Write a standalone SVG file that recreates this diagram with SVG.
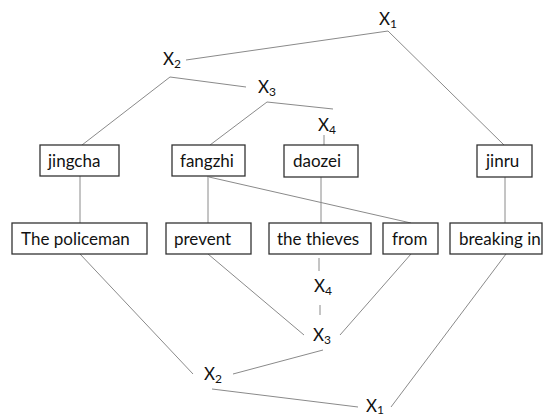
<svg xmlns="http://www.w3.org/2000/svg" width="552" height="416" viewBox="0 0 552 416">
<style>
.bg{fill:#ffffff}
.box{fill:#ffffff;stroke:#333333;stroke-width:1.3}
.t{font-family:Lato,"Liberation Sans",sans-serif;font-size:17px;fill:#111111}
.x{font-family:Lato,"Liberation Sans",sans-serif;font-size:17px;fill:#111111}
.sub{font-size:12px}
.c line{stroke:#8a8a8a;stroke-width:1}
</style>
<rect class="bg" x="0" y="0" width="552" height="416"/>
<g id="connectors" class="c">
<line x1="388" y1="31" x2="186" y2="60"/>
<line x1="388" y1="31" x2="504" y2="145"/>
<line x1="170" y1="77" x2="82" y2="145"/>
<line x1="170" y1="77" x2="246" y2="87"/>
<line x1="267" y1="102" x2="210" y2="145"/>
<line x1="267" y1="102" x2="333" y2="109"/>
<line x1="324" y1="135" x2="324" y2="145"/>
<line x1="80" y1="176" x2="80" y2="223"/>
<line x1="208" y1="176" x2="208" y2="223"/>
<line x1="209" y1="177" x2="411" y2="223"/>
<line x1="321" y1="177" x2="321" y2="223"/>
<line x1="505" y1="177" x2="505" y2="223"/>
<line x1="80" y1="254" x2="193" y2="374"/>
<line x1="208" y1="254" x2="304" y2="335"/>
<line x1="319" y1="258" x2="319" y2="271"/>
<line x1="320" y1="305" x2="320" y2="315"/>
<line x1="411" y1="254" x2="340" y2="335"/>
<line x1="323" y1="350" x2="233" y2="374"/>
<line x1="212" y1="389" x2="358" y2="407"/>
<line x1="506" y1="254" x2="391" y2="407"/>
</g>
<g id="X1top"><text class="x" x="379" y="25">X<tspan class="sub" dy="3">1</tspan></text></g>
<g id="X2top"><text class="x" x="163" y="65">X<tspan class="sub" dy="3">2</tspan></text></g>
<g id="X3top"><text class="x" x="258" y="93">X<tspan class="sub" dy="3">3</tspan></text></g>
<g id="X4top"><text class="x" x="318" y="131">X<tspan class="sub" dy="3">4</tspan></text></g>
<g id="jingcha"><rect class="box" x="40" y="145" width="79" height="31"/><text class="t" x="48" y="167">jingcha</text></g>
<g id="fangzhi"><rect class="box" x="172" y="145" width="73" height="31"/><text class="t" x="180" y="167">fangzhi</text></g>
<g id="daozei"><rect class="box" x="284" y="145" width="74" height="32"/><text class="t" x="293" y="167">daozei</text></g>
<g id="jinru"><rect class="box" x="477" y="145" width="55" height="32"/><text class="t" x="486" y="167">jinru</text></g>
<g id="policeman"><rect class="box" x="12" y="223" width="135" height="31"/><text class="t" x="21" y="245">The policeman</text></g>
<g id="prevent"><rect class="box" x="166" y="223" width="85" height="31"/><text class="t" x="174" y="245">prevent</text></g>
<g id="thieves"><rect class="box" x="269" y="223" width="102" height="31"/><text class="t" x="277" y="245">the thieves</text></g>
<g id="from"><rect class="box" x="383" y="223" width="55" height="31"/><text class="t" x="392" y="245">from</text></g>
<g id="breakingin"><rect class="box" x="450" y="223" width="92" height="31"/><text class="t" x="459" y="245">breaking in</text></g>
<g id="X4low"><text class="x" x="314" y="292">X<tspan class="sub" dy="3">4</tspan></text></g>
<g id="X3low"><text class="x" x="313" y="341">X<tspan class="sub" dy="3">3</tspan></text></g>
<g id="X2low"><text class="x" x="204" y="380">X<tspan class="sub" dy="3">2</tspan></text></g>
<g id="X1low"><text class="x" x="366" y="412">X<tspan class="sub" dy="2">1</tspan></text></g>
</svg>
